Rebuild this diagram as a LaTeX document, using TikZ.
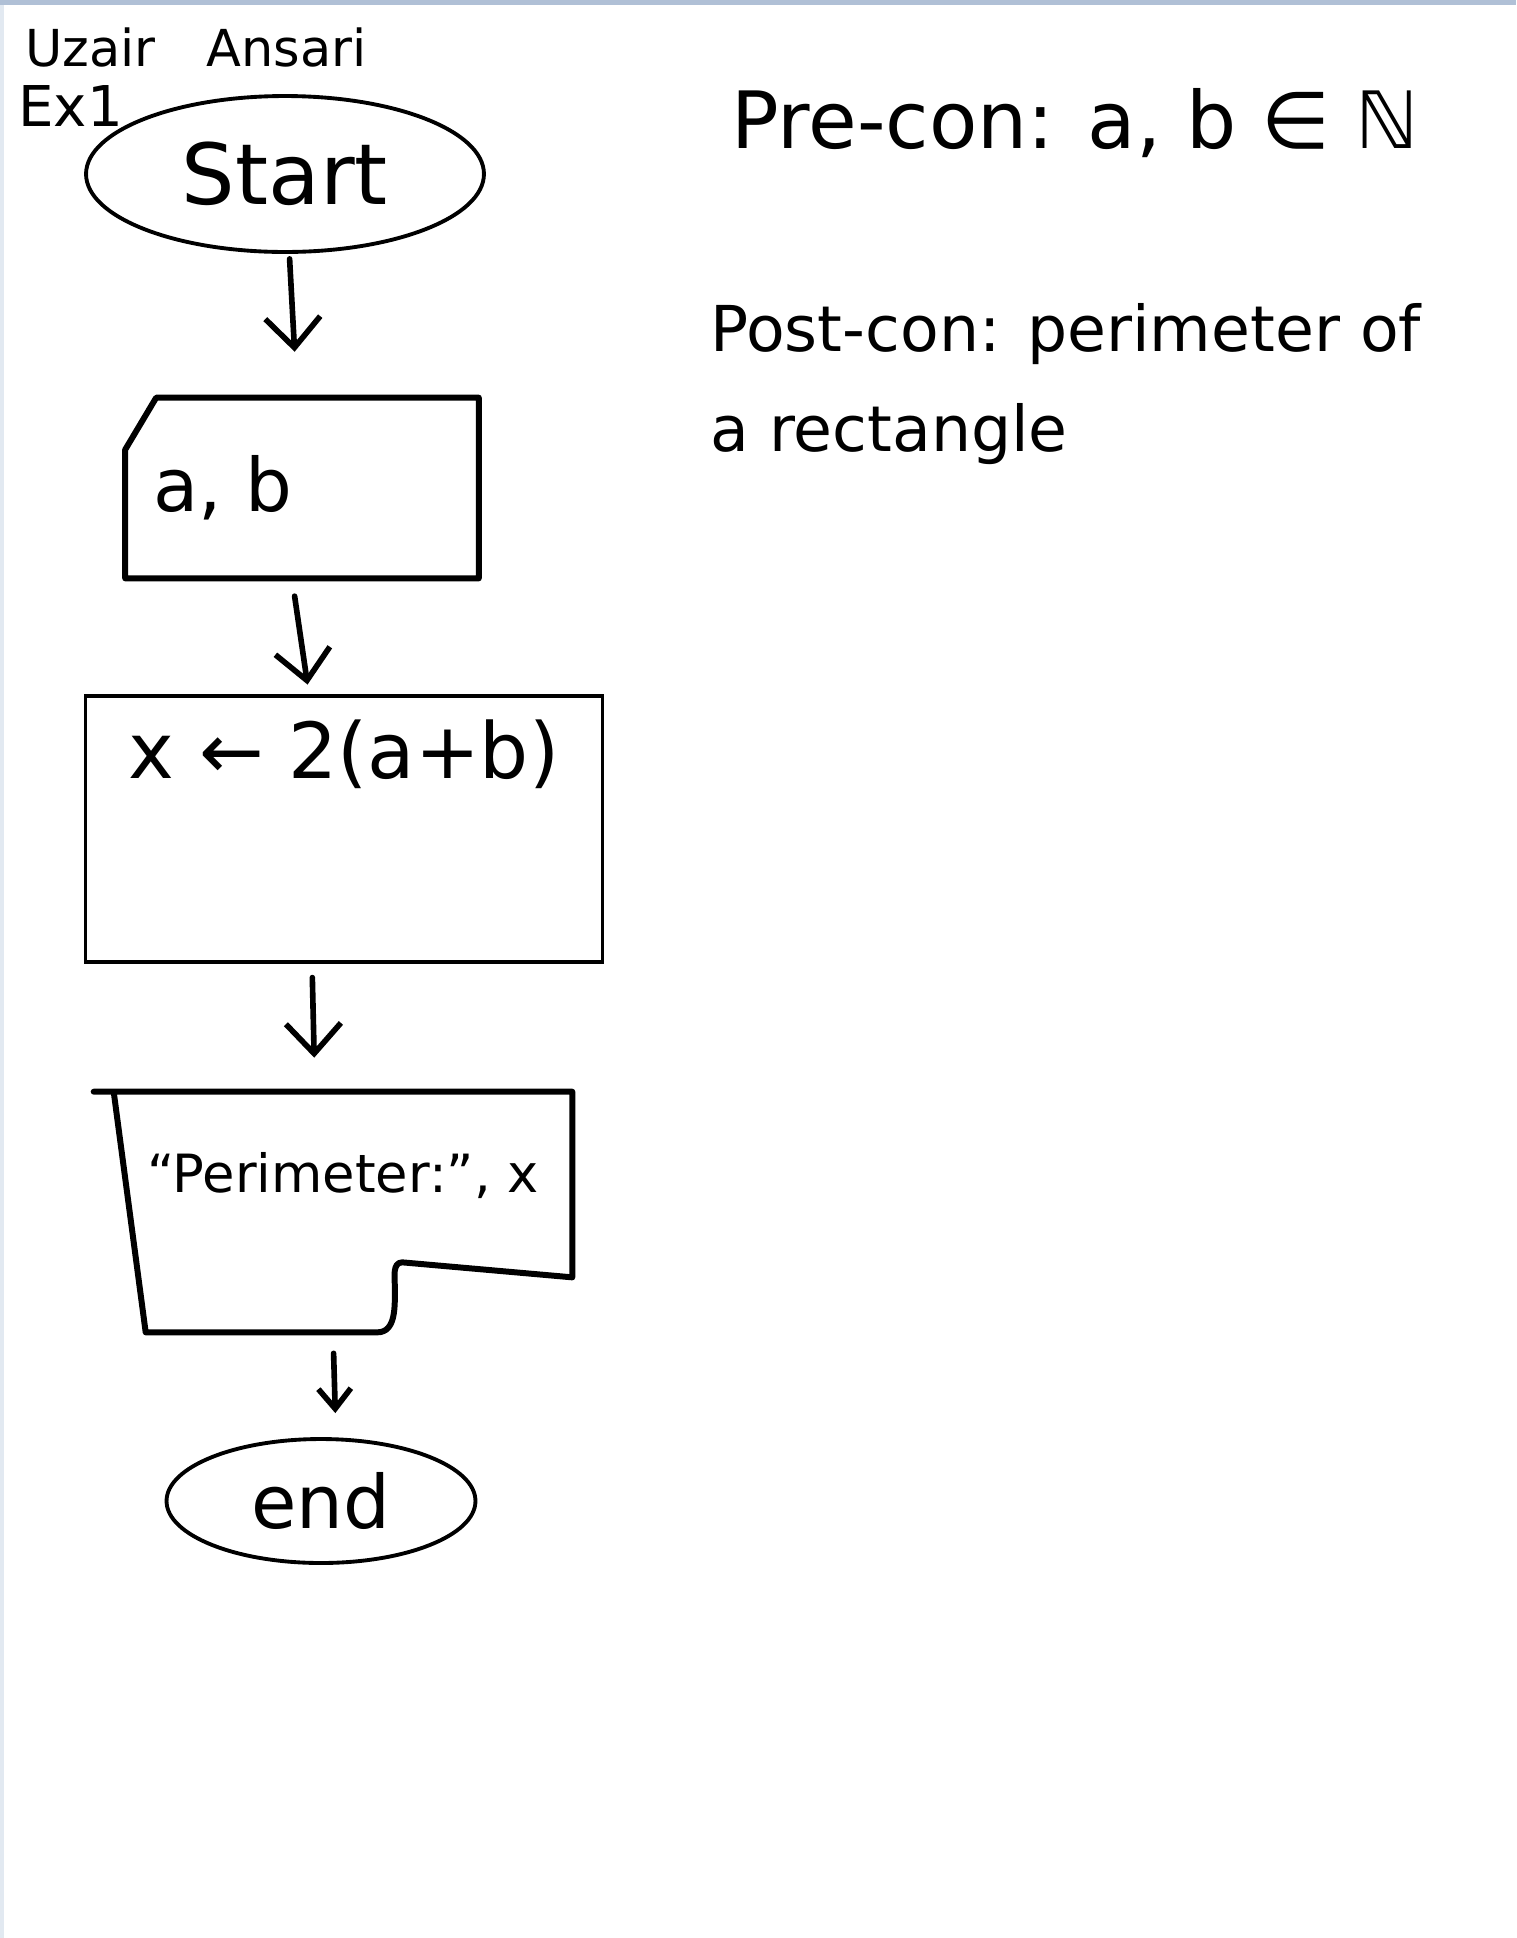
\documentclass[tikz,border=0pt]{standalone}
\usepackage{fontspec}
\setmainfont{DejaVu Sans}
\usepackage{tikz}
\usetikzlibrary{shapes,arrows.meta,positioning}

\definecolor{framebar}{RGB}{176,192,214}
\definecolor{frameedge}{RGB}{226,233,241}

\begin{document}
\begin{tikzpicture}[
    x=0.02cm, y=-0.02cm,
    term/.style={ellipse, draw, line width=2.2pt, inner sep=0pt},
    iobox/.style={rectangle, draw=none, inner sep=0pt},
    procbox/.style={rectangle, draw, line width=1.8pt, minimum width=10.34cm, minimum height=5.32cm},
    outline/.style={line width=3.4pt, line join=round, line cap=round},
    txt/.style={inner sep=0pt},
    flow/.style={-{Straight Barb[length=0.6cm, width=1.1cm]}, line width=3.2pt, line cap=round}
]

% page
\fill[white] (0,0) rectangle (1516,1938);
\fill[frameedge] (0,0) rectangle (4,1938);
\fill[framebar] (0,0) rectangle (1516,5);
\useasboundingbox (0,0) rectangle (1516,1938);

% header
\node[txt, anchor=base west, font=\fontsize{29}{34}\selectfont] (author) at (25,66) {Uzair\quad Ansari};
\node[txt, anchor=base west, font=\fontsize{32}{38}\selectfont] (exno) at (18,126) {Ex1};
\node[txt, anchor=base west, font=\fontsize{45}{52}\selectfont] (precon) at (731,148) {Pre-con: a, b ∈ ℕ};
\node[txt, anchor=north west, align=left, font=\fontsize{36}{57}\selectfont] (postcon) at (710,303) {Post-con: perimeter of\\a rectangle};

% flowchart
\node[term, minimum width=7.96cm, minimum height=3.12cm, font=\fontsize{48}{56}\selectfont] (start) at (285,174) {Start};
\node[iobox, minimum width=7.06cm, minimum height=3.6cm] (input) at (302,488) {};
\node[procbox] (proc) at (344,829) {};
\node[iobox, minimum width=9.16cm, minimum height=4.8cm] (out) at (343,1212) {};
\node[term, minimum width=6.18cm, minimum height=2.48cm, font=\fontsize{42}{50}\selectfont] (stop) at (321,1501) {end};

% box texts
\node[txt, right=0.56cm of input.west, font=\fontsize{42}{50}\selectfont] (intxt) {a, b};
\node[txt, below=0.5cm of proc.north, font=\fontsize{44}{52}\selectfont] (proctxt) {x ← 2(a+b)};
\node[txt, below=1.2cm of out.north, font=\fontsize{30}{36}\selectfont] (outtxt) {“Perimeter:”, x};

% outlines
\draw[outline] ([yshift=-1.04cm]input.north west) -- ([xshift=0.62cm]input.north west)
    -- (input.north east) -- (input.south east) -- (input.south west) -- cycle;
\draw[outline] ([xshift=-0.4cm]out.north west) -- (out.north east)
    -- ([yshift=1.1cm]out.south east) -- ([xshift=-3.4cm, yshift=1.4cm]out.south east)
    to[out=180, in=90] ([xshift=-3.55cm, yshift=0.9cm]out.south east)
    to[out=-90, in=0] ([xshift=-3.9cm]out.south east)
    -- ([xshift=0.64cm]out.south west) -- (out.north west);

% arrows
\draw[flow, shorten <=0.1cm, shorten >=0.92cm] (start) -- (input);
\draw[flow, shorten <=0.36cm, shorten >=0.2cm] ([xshift=-0.2cm]input.south) -- ([xshift=-0.7cm]proc.north);
\draw[flow, shorten <=0.28cm, shorten >=0.68cm] ([xshift=-0.64cm]proc.south) -- ([xshift=-0.56cm]out.north);
\draw[flow, -{Straight Barb[length=0.4cm, width=0.65cm]}, shorten <=0.42cm, shorten >=0.48cm] ([xshift=-0.2cm]out.south) -- ([xshift=0.3cm]stop.north);

\end{tikzpicture}
\end{document}
